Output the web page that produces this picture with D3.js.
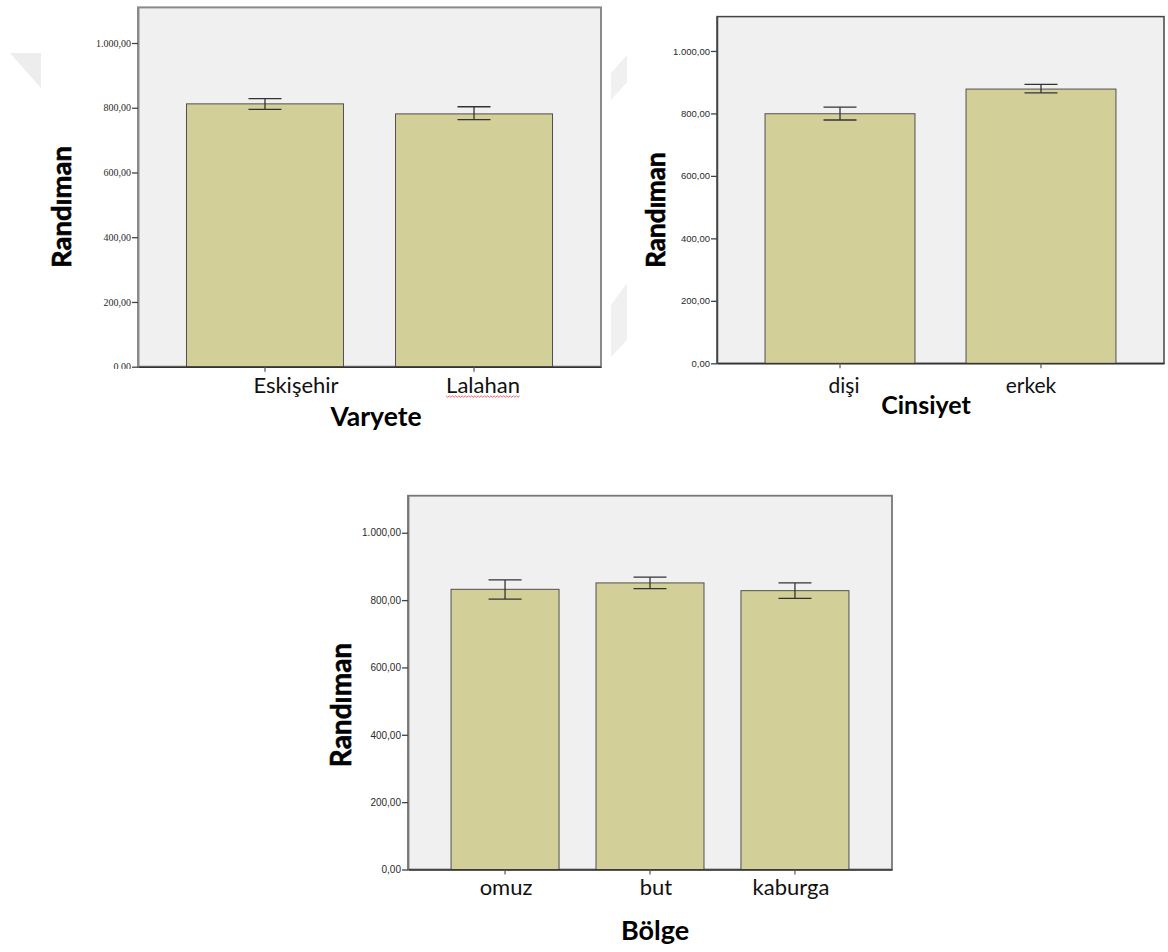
<!DOCTYPE html>
<html><head><meta charset="utf-8">
<script src="https://cdn.jsdelivr.net/npm/d3@7"></script>
<style>body{margin:0;background:#fff} svg{display:block}</style>
</head><body>
<svg id="c" width="1168" height="952"></svg>
<script>
// ---------- data ----------
const yTitle = "Randıman";
const yTickValues = [0, 200, 400, 600, 800, 1000];
const yMax = 1110;

const varyeteTitle = "Varyete";
const varyeteCategories = ["Eskişehir", "Lalahan"];
const varyeteMeans = [812, 781];
const varyeteLower = [795, 763];
const varyeteUpper = [828, 803];

const cinsiyetTitle = "Cinsiyet";
const cinsiyetCategories = ["dişi", "erkek"];
const cinsiyetMeans = [799, 878];
const cinsiyetLower = [779, 866];
const cinsiyetUpper = [820, 893];

const bolgeTitle = "Bölge";
const bolgeCategories = ["omuz", "but", "kaburga"];
const bolgeMeans = [832, 851, 828];
const bolgeLower = [803, 834, 805];
const bolgeUpper = [860, 868, 851];

// ---------- helpers ----------
const fmt = d3.formatLocale({decimal: ",", thousands: ".", grouping: [3], currency: ["", ""]}).format(",.2f");
const svg = d3.select("#c");
const defs = svg.append("defs");

// faint watermark shapes behind the first chart
const wm = svg.append("g").attr("fill", "#ededed");
wm.append("path").attr("d", "M10,53L41,53L41,88Z");
wm.append("path").attr("d", "M611,73L627,55L627,82L611,100Z").attr("fill", "#f0f0f0");
wm.append("path").attr("d", "M611,305L627,283L627,340L611,357Z").attr("fill", "#f0f0f0");

function drawChart(cats, means, lower, upper, xTitle, L, id) {
  const rows = cats.map((c, i) => ({c, m: means[i], lo: lower[i], hi: upper[i]}));
  const g = svg.append("g");
  const x = d3.scaleBand().domain(cats).range([L.left, L.right])
    .paddingInner(L.padIn).paddingOuter(L.padOut);
  const y = d3.scaleLinear().domain([0, yMax]).range([L.bottom, L.top]);

  // plot background + frame
  g.append("rect").attr("x", L.left).attr("y", L.top)
    .attr("width", L.right - L.left).attr("height", L.bottom - L.top)
    .attr("fill", "#f0f0f0").attr("stroke", L.frameColor).attr("stroke-width", L.frameWidth);

  // bars
  g.selectAll("rect.bar").data(rows).join("rect").attr("class", "bar")
    .attr("x", d => x(d.c)).attr("width", x.bandwidth())
    .attr("y", d => y(d.m)).attr("height", d => y(0) - y(d.m))
    .attr("fill", "#d3cf98").attr("stroke", "#505050").attr("stroke-width", 1);

  // error bars
  const cap = 16.5;
  const eb = g.selectAll("g.eb").data(rows).join("g").attr("class", "eb")
    .attr("stroke", "#333").attr("stroke-width", 1.3).attr("fill", "none");
  eb.append("line").attr("x1", d => x(d.c) + x.bandwidth() / 2).attr("x2", d => x(d.c) + x.bandwidth() / 2)
    .attr("y1", d => y(d.hi)).attr("y2", d => y(d.lo));
  eb.append("line").attr("x1", d => x(d.c) + x.bandwidth() / 2 - cap).attr("x2", d => x(d.c) + x.bandwidth() / 2 + cap)
    .attr("y1", d => y(d.hi)).attr("y2", d => y(d.hi));
  eb.append("line").attr("x1", d => x(d.c) + x.bandwidth() / 2 - cap).attr("x2", d => x(d.c) + x.bandwidth() / 2 + cap)
    .attr("y1", d => y(d.lo)).attr("y2", d => y(d.lo));

  // y axis (labels of the first chart are cut at the bottom as in the original)
  const clipId = "clip" + id;
  defs.append("clipPath").attr("id", clipId).append("rect")
    .attr("x", -L.left).attr("y", L.top - 20).attr("width", 1168).attr("height", L.clipBottom - L.top + 20);
  const ya = g.append("g").attr("transform", `translate(${L.left},0)`)
    .attr("clip-path", `url(#${clipId})`)
    .call(d3.axisLeft(y).tickValues(yTickValues).tickFormat(fmt).tickSize(6).tickSizeOuter(0).tickPadding(1));
  ya.select(".domain").attr("stroke", L.frameColor).attr("stroke-width", L.frameWidth);
  ya.selectAll(".tick line").attr("stroke", "#444").attr("stroke-width", 1.3);
  ya.selectAll(".tick text").attr("font-family", L.tickFont).attr("font-size", L.tickSize).attr("fill", "#2a2a2a");

  // x axis
  const xa = g.append("g").attr("transform", `translate(0,${L.bottom})`)
    .call(d3.axisBottom(x).tickSize(5).tickSizeOuter(0).tickFormat(""));
  xa.select(".domain").attr("stroke", "#333").attr("stroke-width", 1.5);
  xa.selectAll(".tick line").attr("stroke", "#555").attr("stroke-width", 1.2);

  // category labels
  const labels = g.selectAll("text.cat").data(rows).join("text").attr("class", "cat")
    .attr("x", (d, i) => x(d.c) + x.bandwidth() / 2 + L.catDx[i]).attr("y", L.catBaseline)
    .attr("text-anchor", "middle").attr("font-family", "Lato, 'Open Sans', sans-serif")
    .attr("font-size", L.catSize).attr("fill", "#111").text(d => d.c);

  if (L.underline !== undefined) {
    const node = labels.nodes()[L.underline];
    const bb = node.getBBox();
    const yy = L.catBaseline + 3;
    const pts = d3.range(bb.x, bb.x + bb.width + 0.1, 1.6).map((px, k) => [px, yy + (k % 2 ? 1.3 : -0.2)]);
    g.append("path").attr("d", d3.line()(pts)).attr("fill", "none")
      .attr("stroke", "#e04040").attr("stroke-width", 0.8);
  }

  // axis titles
  g.append("text").attr("x", L.titleX).attr("y", L.titleBaseline).attr("text-anchor", "middle")
    .attr("font-family", "Lato, 'Open Sans', sans-serif").attr("font-weight", 700)
    .attr("font-size", L.titleSize).attr("fill", "#000").text(xTitle);
  g.append("text").attr("transform", `translate(${L.yTitleX},${L.yTitleY}) rotate(-90)`)
    .attr("text-anchor", "middle").attr("dominant-baseline", "central")
    .attr("font-family", "Lato, 'Open Sans', sans-serif").attr("font-weight", 700)
    .attr("font-size", L.yTitleSize).attr("fill", "#000")
    .attr("stroke", "#000").attr("stroke-width", 0.6).text(yTitle);
}

drawChart(varyeteCategories, varyeteMeans, varyeteLower, varyeteUpper, varyeteTitle, {
  left: 138, right: 601, top: 7.4, bottom: 366.7, padIn: 0.249, padOut: 0.232,
  frameColor: "#8a8a8a", frameWidth: 2, tickFont: "'Liberation Serif', serif", tickSize: 10,
  clipBottom: 369, catSize: 22, catBaseline: 393, catDx: [31, 9],
  titleX: 376, titleBaseline: 426, titleSize: 26.5,
  yTitleX: 60, yTitleY: 207, yTitleSize: 27.5, underline: 1
}, 1);

drawChart(cinsiyetCategories, cinsiyetMeans, cinsiyetLower, cinsiyetUpper, cinsiyetTitle, {
  left: 717, right: 1164, top: 16.6, bottom: 363.3, padIn: 0.254, padOut: 0.239,
  frameColor: "#444", frameWidth: 1.5, tickFont: "'Liberation Sans', Arial, sans-serif", tickSize: 9.5,
  clipBottom: 952, catSize: 21, catBaseline: 393, catDx: [4, -10],
  titleX: 926, titleBaseline: 414, titleSize: 25,
  yTitleX: 655, yTitleY: 210, yTitleSize: 26
}, 2);

drawChart(bolgeCategories, bolgeMeans, bolgeLower, bolgeUpper, bolgeTitle, {
  left: 408, right: 892, top: 495.7, bottom: 869.5, padIn: 0.255, padOut: 0.297,
  frameColor: "#777", frameWidth: 1.8, tickFont: "'Liberation Sans', Arial, sans-serif", tickSize: 10,
  clipBottom: 952, catSize: 22, catBaseline: 895, catDx: [1, 6, -4],
  titleX: 655, titleBaseline: 940, titleSize: 27,
  yTitleX: 340, yTitleY: 705, yTitleSize: 28
}, 3);
</script>
</body></html>
